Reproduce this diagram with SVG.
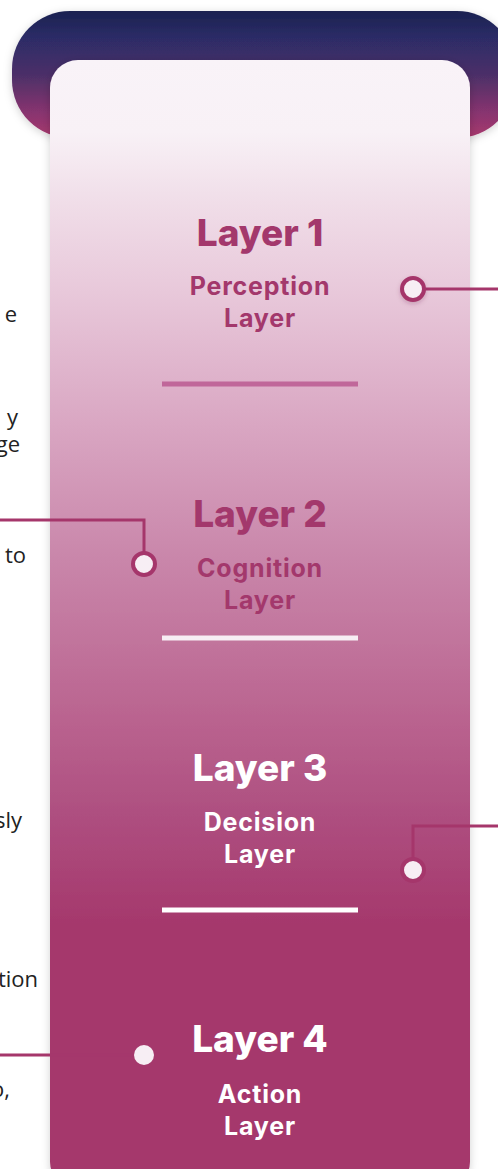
<svg xmlns="http://www.w3.org/2000/svg" width="498" height="1169" viewBox="0 0 498 1169">
  <defs>
    <linearGradient id="capGrad" x1="0" y1="11" x2="0" y2="138" gradientUnits="userSpaceOnUse">
      <stop offset="0" stop-color="#1a2150"/>
      <stop offset="0.2" stop-color="#2b2c66"/>
      <stop offset="0.5" stop-color="#4b2f68"/>
      <stop offset="0.8" stop-color="#88346f"/>
      <stop offset="1" stop-color="#a8396d"/>
    </linearGradient>
    <linearGradient id="cardGrad" x1="0" y1="60" x2="0" y2="1169" gradientUnits="userSpaceOnUse">
      <stop offset="0" stop-color="#f9f3f8"/>
      <stop offset="0.065" stop-color="#f8f1f6"/>
      <stop offset="0.13" stop-color="#f0dde8"/>
      <stop offset="0.21" stop-color="#e8c8da"/>
      <stop offset="0.33" stop-color="#d9a6c2"/>
      <stop offset="0.45" stop-color="#c986aa"/>
      <stop offset="0.6" stop-color="#b9628e"/>
      <stop offset="0.68" stop-color="#ae4f80"/>
      <stop offset="0.78" stop-color="#a5386c"/>
      <stop offset="1" stop-color="#a5386c"/>
    </linearGradient>
    <filter id="shadow" x="-20%" y="-20%" width="140%" height="140%">
      <feDropShadow dx="0" dy="2" stdDeviation="4" flood-color="#000" flood-opacity="0.18"/>
    </filter>
    <filter id="dotShadow" x="-50%" y="-50%" width="200%" height="200%">
      <feDropShadow dx="0" dy="2" stdDeviation="2" flood-color="#6b1f45" flood-opacity="0.25"/>
    </filter>
  </defs>
  <style>
    .side { font-family: "Open Sans", "Liberation Sans", sans-serif; font-size: 22px; fill: #222222; text-anchor: end; }
    .title { font-family: Inter, "Liberation Sans", sans-serif; font-weight: 800; font-size: 37px; text-anchor: middle; }
    .sub { font-family: Inter, "Liberation Sans", sans-serif; font-weight: 700; font-size: 25px; text-anchor: middle; letter-spacing: 0.8px; }
    .dark { fill: #a3386c; }
    .light { fill: #ffffff; }
    .wire { fill: none; stroke: #a5366b; stroke-width: 3; }
    .dot { fill: #f7eef4; stroke: #a5366b; stroke-width: 4; }
    .divider { stroke-width: 5; }
  </style>

  <!-- text fragments of the side descriptions -->
  <g id="side-text">
    <text class="side" x="17" y="322">e</text>
    <text class="side" x="18" y="425">y</text>
    <text class="side" x="20" y="452">ge</text>
    <text class="side" x="26" y="563">to</text>
    <text class="side" x="22" y="828">sly</text>
    <text class="side" x="38" y="987">tion</text>
    <text class="side" x="10" y="1097">o,</text>
  </g>

  <!-- header cap behind the card -->
  <g id="cap">
    <rect x="12" y="11" width="503" height="127" rx="58" ry="58" fill="url(#capGrad)" filter="url(#shadow)"/>
  </g>

  <!-- main column card -->
  <g id="card">
    <rect x="50" y="60" width="420" height="1130" rx="28" ry="28" fill="url(#cardGrad)" filter="url(#shadow)"/>
  </g>

  <!-- connector wires -->
  <g id="connectors">
    <path class="wire" d="M 0 520 H 144 V 556"/>
    <path class="wire" d="M 498 826 H 413 V 862"/>
    <path class="wire" d="M 423 289 H 498"/>
    <path class="wire" d="M 0 1055 H 50"/>
    <path class="wire" d="M 50 1055 H 134" stroke-opacity="0.5"/>
  </g>

  <g id="layer1">
    <text class="title dark" x="260" y="246">Layer 1</text>
    <text class="sub dark" x="260" y="295">Perception</text>
    <text class="sub dark" x="260" y="327">Layer</text>
    <line class="divider" x1="162" y1="384" x2="358" y2="384" stroke="#c0679a"/>
    <circle class="dot" cx="413" cy="289" r="11" filter="url(#dotShadow)"/>
  </g>

  <g id="layer2">
    <text class="title dark" x="260" y="527">Layer 2</text>
    <text class="sub dark" x="260" y="577">Cognition</text>
    <text class="sub dark" x="260" y="609">Layer</text>
    <line class="divider" x1="162" y1="638" x2="358" y2="638" stroke="#f7eef4"/>
    <circle class="dot" cx="144" cy="564" r="11"/>
  </g>

  <g id="layer3">
    <text class="title light" x="260" y="781">Layer 3</text>
    <text class="sub light" x="260" y="831">Decision</text>
    <text class="sub light" x="260" y="863">Layer</text>
    <line class="divider" x1="162" y1="910" x2="358" y2="910" stroke="#ffffff"/>
    <circle class="dot" cx="413" cy="870" r="11"/>
  </g>

  <g id="layer4">
    <text class="title light" x="260" y="1052">Layer 4</text>
    <text class="sub light" x="260" y="1103">Action</text>
    <text class="sub light" x="260" y="1135">Layer</text>
    <circle cx="144" cy="1055" r="10" fill="#f7eef4"/>
  </g>
</svg>
